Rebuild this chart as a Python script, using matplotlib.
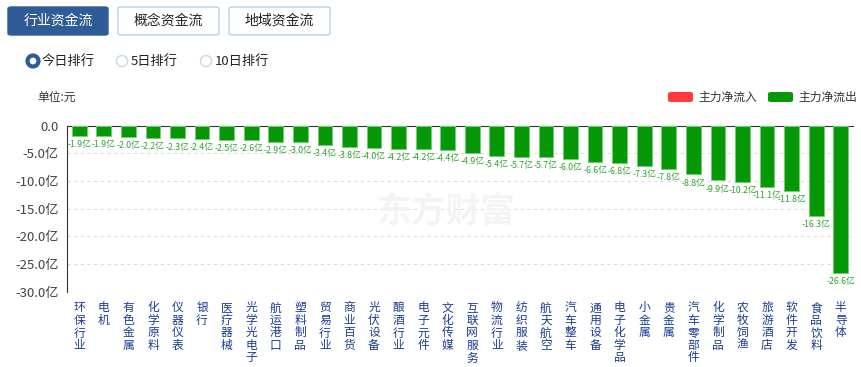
import matplotlib
matplotlib.use("Agg")
import matplotlib.pyplot as plt
from matplotlib.patches import FancyBboxPatch, Ellipse

plt.rcParams['font.family'] = ['Noto Sans CJK SC', 'DejaVu Sans']

# industry names and main-force net flow (亿元)
industries = ["环保行业", "电机", "有色金属", "化学原料", "仪器仪表", "银行", "医疗器械",
              "光学光电子", "航运港口", "塑料制品", "贸易行业", "商业百货", "光伏设备",
              "酿酒行业", "电子元件", "文化传媒", "互联网服务", "物流行业", "纺织服装",
              "航天航空", "汽车整车", "通用设备", "电子化学品", "小金属", "贵金属",
              "汽车零部件", "化学制品", "农牧饲渔", "旅游酒店", "软件开发", "食品饮料", "半导体"]
net_flow = [-1.9, -1.9, -2.0, -2.2, -2.3, -2.4, -2.5, -2.6, -2.9, -3.0, -3.4, -3.8, -4.0,
            -4.2, -4.2, -4.4, -4.9, -5.4, -5.7, -5.7, -6.0, -6.6, -6.8, -7.3, -7.8,
            -8.8, -9.9, -10.2, -11.1, -11.8, -16.3, -26.6]
y_ticks = [0, -5, -10, -15, -20, -25, -30]

W, H = 862, 367
fig = plt.figure(figsize=(W / 100, H / 100), dpi=100)


def fx(x):
    return x / W


def fy(y):
    return 1 - y / H


# header buttons
tabs = [("行业资金流", 8, 108, True), ("概念资金流", 118, 219, False), ("地域资金流", 229, 330, False)]
for name, x0, x1, active in tabs:
    box = FancyBboxPatch((fx(x0), fy(35)), fx(x1 - x0), 28 / H,
                         boxstyle="round,pad=0,rounding_size=0.004",
                         transform=fig.transFigure,
                         facecolor="#2f5b98" if active else "white",
                         edgecolor="#2f5b98" if active else "#b9d0e8", linewidth=1)
    fig.patches.append(box)
    fig.text(fx((x0 + x1) / 2), fy(21), name, ha="center", va="center", fontsize=10,
             color="white" if active else "#222222")

# radio buttons
radios = [("今日排行", 33, True), ("5日排行", 122, False), ("10日排行", 206, False)]
for name, cx, sel in radios:
    ring = Ellipse((fx(cx), fy(61)), 11 / W, 11 / H, transform=fig.transFigure,
                   facecolor="white", edgecolor="#2f5b98" if sel else "#c6d8ea",
                   linewidth=3 if sel else 1)
    fig.patches.append(ring)
    fig.text(fx(cx + 9), fy(61), name, ha="left", va="center", fontsize=9.5, color="#222222")

fig.text(fx(37), fy(97), "单位:元", ha="left", va="center", fontsize=8.5, color="#333333")

# legend
legend_items = [("主力净流入", 668, "#ff3b3b"), ("主力净流出", 768, "#069806")]
for name, x0, col in legend_items:
    patch = FancyBboxPatch((fx(x0), fy(102)), fx(25), 10 / H,
                           boxstyle="round,pad=0,rounding_size=0.004",
                           transform=fig.transFigure, facecolor=col, edgecolor="none")
    fig.patches.append(patch)
    fig.text(fx(x0 + 30), fy(97), name, ha="left", va="center", fontsize=8.5, color="#333333")

# watermark
fig.text(fx(377), fy(211), "东方财富", ha="left", va="center", fontsize=25,
         fontweight="bold", color="#f4f4f4", zorder=0)

ax = fig.add_axes([fx(67), fy(291.7), fx(853 - 67), (291.7 - 125.7) / H])
ax.set_facecolor("none")
xs = list(range(len(industries)))
bars = ax.bar(xs, net_flow, width=0.6, color="#069806", edgecolor="#72cf72",
              linewidth=0.7, zorder=3)
for x, v in zip(xs, net_flow):
    ax.annotate(f"{v:.1f}亿", (x, v), xytext=(0, -3), textcoords="offset points",
                ha="center", va="top", fontsize=6.3, color="#2ea12e", zorder=4)

ax.set_xlim(-0.5, len(industries) - 0.5)
ax.set_ylim(-30, 0)
ax.set_yticks(y_ticks)
ax.set_yticklabels(["0.0"] + [f"{t:.1f}亿" for t in y_ticks[1:]], fontsize=9.5, color="#444444")
ax.set_xticks(xs)
ax.set_xticklabels(["\n".join(n) for n in industries], fontsize=8.5, color="#1b3d96",
                   linespacing=0.95, va="top")
ax.tick_params(length=0, pad=6)
ax.tick_params(axis="x", pad=7)
ax.grid(axis="y", linestyle=(0, (3, 3)), color="#dddddd", linewidth=0.8, zorder=0)
for s in ["bottom", "right"]:
    ax.spines[s].set_visible(False)
ax.spines["left"].set_color("#333333")
ax.spines["top"].set_color("#333333")

fig.savefig("out.png", dpi=100)
